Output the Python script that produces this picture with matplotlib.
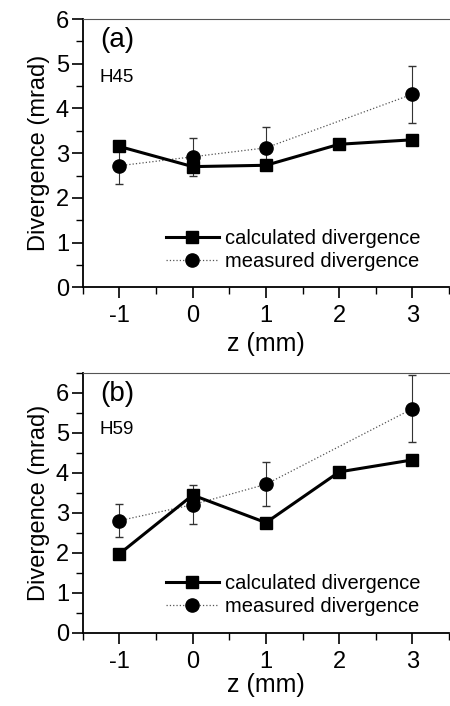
import matplotlib.pyplot as plt
from matplotlib.lines import Line2D
from matplotlib.ticker import MultipleLocator

plt.rcParams['font.family'] = ['Liberation Sans', 'DejaVu Sans']
plt.rcParams['axes.unicode_minus'] = False

z = [-1, 0, 1, 2, 3]
z_meas = [-1, 0, 1, 3]

# panel (a) H45
calc_a = [3.15, 2.7, 2.73, 3.2, 3.3]
meas_a = [2.72, 2.92, 3.12, 4.32]
err_a = [0.41, 0.43, 0.47, 0.64]

# panel (b) H59
calc_b = [1.97, 3.44, 2.75, 4.02, 4.32]
meas_b = [2.8, 3.2, 3.71, 5.6]
err_b = [0.42, 0.48, 0.55, 0.84]

fig = plt.figure(figsize=(4.5, 7.06), dpi=100)
ax1 = fig.add_axes([0.184, 0.593, 0.814, 0.380])
ax2 = fig.add_axes([0.184, 0.104, 0.814, 0.368])

panels = [(ax1, calc_a, meas_a, err_a, '(a)', 'H45', 6, 3),
          (ax2, calc_b, meas_b, err_b, '(b)', 'H59', 6.5, 0)]

for ax, calc, meas, err, tag, name, ytop, xpad in panels:
    ax.plot(z, calc, '-s', color='black', lw=2.2, ms=9, zorder=3)
    ax.errorbar(z_meas, meas, yerr=err, fmt='o', color='black', ms=9.5, capsize=3,
                elinewidth=0.8, ecolor='#333333', zorder=2)
    ax.plot(z_meas, meas, ls=':', color='#555555', lw=0.9, zorder=1)
    ax.set_xlim(-1.5, 3.5)
    ax.set_ylim(0, ytop)
    ax.xaxis.set_major_locator(MultipleLocator(1))
    ax.xaxis.set_minor_locator(MultipleLocator(0.5))
    ax.yaxis.set_major_locator(MultipleLocator(1))
    ax.yaxis.set_minor_locator(MultipleLocator(0.5))
    ax.tick_params(axis='both', which='major', direction='out', length=8, width=1.2,
                   labelsize=17, top=False, right=False)
    ax.tick_params(axis='x', which='major', pad=5)
    ax.tick_params(axis='y', which='major', pad=2)
    ax.tick_params(axis='both', which='minor', direction='out', length=5, width=1,
                   top=False, right=False)
    ax.spines['left'].set_linewidth(1.3)
    ax.spines['bottom'].set_linewidth(1.3)
    ax.spines['top'].set_linewidth(0.8)
    ax.spines['top'].set_color('#555555')
    ax.spines['right'].set_visible(False)
    ax.set_xlabel('z (mm)', fontsize=18, labelpad=xpad)
    ax.set_ylabel('Divergence (mrad)', fontsize=17, labelpad=4)
    ax.text(0.047, 0.97, tag, transform=ax.transAxes, fontsize=20, va='top', ha='left')
    ax.text(0.045, 0.815, name, transform=ax.transAxes, fontsize=13.5, va='top', ha='left')
    handles = [Line2D([], [], color='black', lw=2.2, marker='s', ms=9),
               Line2D([], [], color='#555555', lw=0.9, ls=':', marker='o', ms=9.5,
                      mfc='black', mec='black')]
    ax.legend(handles, ['calculated divergence', 'measured divergence'],
              loc='lower right', bbox_to_anchor=(0.965, 0.0), frameon=False,
              fontsize=14.5, handlelength=2.6, handletextpad=0.3,
              labelspacing=0.2, borderaxespad=0.4)

fig.savefig('out.png', dpi=100)
